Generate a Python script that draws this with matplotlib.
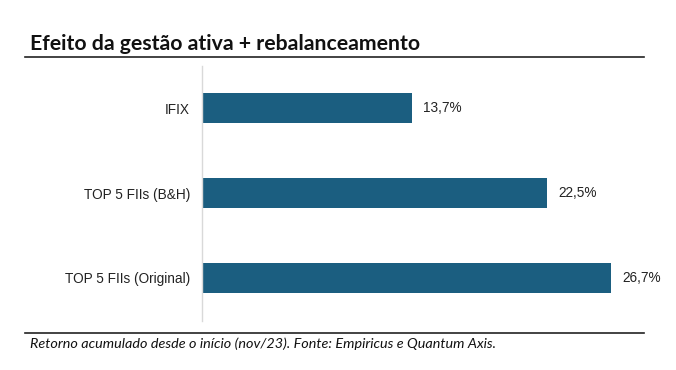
import matplotlib.pyplot as plt
from matplotlib.lines import Line2D

categories = ['IFIX', 'TOP 5 FIIs (B&H)', 'TOP 5 FIIs (Original)']
values = [13.7, 22.5, 26.7]
value_labels = ['13,7%', '22,5%', '26,7%']

W, H = 676, 370
fig = plt.figure(figsize=(W / 100, H / 100), dpi=100)

# axes placed by pixel coordinates of the reference
left, right, top, bottom = 202, 662, 65.5, 320.5
ax = fig.add_axes([left / W, 1 - bottom / H, (right - left) / W, (bottom - top) / H])

ypos = list(range(len(categories)))
ax.barh(ypos, values, height=0.35, color='#1b5e80')
ax.set_ylim(len(categories) - 0.5, -0.5)
ax.set_xlim(0, 30)

for y, v, lab in zip(ypos, values, value_labels):
    ax.annotate(lab, (v, y), xytext=(11, 0), textcoords='offset pixels',
                va='center', ha='left', fontsize=9.8, family='Liberation Sans', color='#222222')

ax.set_yticks(ypos)
ax.set_yticklabels(categories, fontsize=9.8, family='Liberation Sans', color='#222222')
ax.tick_params(axis='y', length=0, pad=8.6)
ax.set_xticks([])
for s in ['top', 'right', 'bottom']:
    ax.spines[s].set_visible(False)
ax.spines['left'].set_color('#d9d9d9')
ax.spines['left'].set_linewidth(1)

# title, rules and footnote
fig.text(30 / W, 1 - 44 / H, 'Efeito da gestão ativa + rebalanceamento', fontsize=15.3,
         fontweight='bold', family='Lato', va='center', ha='left', color='#111111')
fig.add_artist(Line2D([25 / W, 644 / W], [1 - 57 / H, 1 - 57 / H], color='#222222', lw=1.2))
fig.add_artist(Line2D([25 / W, 644 / W], [1 - 333 / H, 1 - 333 / H], color='#222222', lw=1.2))
fig.text(30 / W, 1 - 344 / H, 'Retorno acumulado desde o início (nov/23). Fonte: Empiricus e Quantum Axis.',
         fontsize=10.4, style='italic', family='Lato', va='center', ha='left', color='#111111')

fig.savefig('out.png', dpi=100)
